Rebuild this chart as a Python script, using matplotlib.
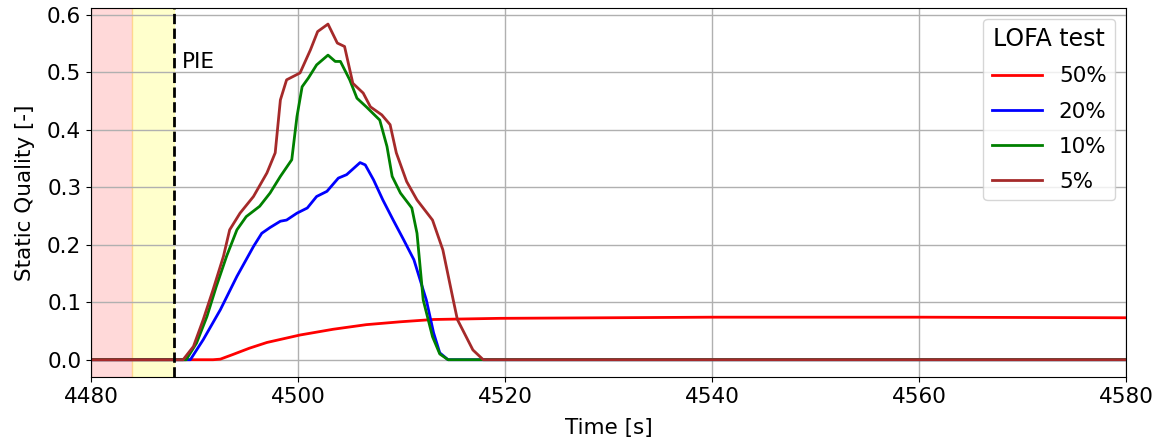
import matplotlib
matplotlib.use("Agg")
import matplotlib.pyplot as plt

# --- data (time [s], static quality [-]) ---
t_50 = [4480, 4491.8, 4492.5, 4493.7, 4495.3, 4497.0, 4500.2, 4503.4, 4506.6, 4509.9,
        4513.1, 4519.5, 4530, 4540, 4560, 4580]
q_50 = [0.0, 0.0, 0.001, 0.009, 0.020, 0.030, 0.043, 0.053, 0.061, 0.066,
        0.070, 0.072, 0.073, 0.074, 0.074, 0.073]

t_20 = [4480, 4489.6, 4490.85, 4492.5, 4494.1, 4495.7, 4496.5, 4497.3, 4498.3, 4498.9,
        4499.9, 4500.9, 4501.8, 4502.8, 4503.9, 4504.7, 4506.0, 4506.5, 4507.3,
        4508.2, 4509.2, 4510.2, 4511.2, 4512.4, 4513.1, 4513.7, 4514.5, 4580]
q_20 = [0.0, 0.0, 0.035, 0.087, 0.145, 0.197, 0.220, 0.230, 0.241, 0.243,
        0.255, 0.264, 0.284, 0.293, 0.316, 0.322, 0.343, 0.339, 0.313,
        0.278, 0.243, 0.209, 0.174, 0.104, 0.047, 0.012, 0.0, 0.0]

t_10 = [4480, 4489.2, 4490.2, 4491.2, 4492.1, 4493.1, 4494.1, 4495.0, 4496.3, 4497.3,
        4498.3, 4499.4, 4499.9, 4500.4, 4501.0, 4501.8, 4502.9, 4503.6, 4504.1,
        4505.0, 4505.7, 4506.6, 4507.9, 4508.6, 4509.1, 4509.9, 4511.0, 4511.5,
        4512.1, 4513.0, 4513.7, 4514.5, 4580]
q_10 = [0.0, 0.0, 0.029, 0.075, 0.127, 0.180, 0.226, 0.249, 0.267, 0.290,
        0.319, 0.348, 0.423, 0.475, 0.490, 0.513, 0.530, 0.519, 0.519,
        0.487, 0.455, 0.440, 0.417, 0.371, 0.319, 0.290, 0.264, 0.220,
        0.104, 0.040, 0.010, 0.0, 0.0]

t_5 = [4480, 4488.9, 4489.9, 4490.85, 4491.8, 4492.8, 4493.4, 4494.4, 4495.7, 4497.0,
       4497.8, 4498.3, 4498.9, 4500.2, 4501.2, 4501.9, 4502.9, 4503.8, 4504.5,
       4505.3, 4506.3, 4507.0, 4508.1, 4508.9, 4509.5, 4510.5, 4511.5, 4513.0,
       4514.0, 4515.0, 4515.4, 4516.9, 4517.9, 4580]
q_5 = [0.0, 0.0, 0.023, 0.070, 0.122, 0.180, 0.226, 0.255, 0.284, 0.325,
       0.360, 0.452, 0.487, 0.499, 0.539, 0.571, 0.584, 0.551, 0.545,
       0.481, 0.464, 0.440, 0.426, 0.409, 0.360, 0.310, 0.278, 0.243,
       0.191, 0.104, 0.070, 0.017, 0.0, 0.0]

series = [(t_50, q_50, "red", "50%"), (t_20, q_20, "blue", "20%"),
          (t_10, q_10, "green", "10%"), (t_5, q_5, "brown", "5%")]

FS = 15.5

fig = plt.figure(figsize=(11.59, 4.44), dpi=100)
ax = fig.add_axes([0.0785, 0.151, 0.893, 0.831])

# transient phases shaded, PIE marker
ax.axvspan(4480, 4484, color="red", alpha=0.15, zorder=0)
ax.axvspan(4484, 4488, color="yellow", alpha=0.2, zorder=0)
ax.axvline(4488, color="black", linestyle="--", linewidth=2, zorder=4)
ax.text(4488.8, 0.508, "PIE", fontsize=FS)

for t, q, c, lab in series:
    ax.plot(t, q, color=c, linewidth=2, label=lab)

ax.set_xlim(4480, 4580)
ax.set_ylim(-0.03, 0.612)
ax.set_xticks(range(4480, 4581, 20))
ax.set_yticks([0.0, 0.1, 0.2, 0.3, 0.4, 0.5, 0.6])
ax.tick_params(labelsize=FS)
ax.grid(True, color="#b0b0b0", linewidth=1)
ax.set_xlabel("Time [s]", fontsize=FS, labelpad=8)
ax.set_ylabel("Static Quality [-]", fontsize=FS, labelpad=9)
ax.legend(title="LOFA test", loc="upper right", fontsize=FS,
          title_fontsize=17, handlelength=2.3, labelspacing=0.7)

fig.savefig("out.png", dpi=100)
